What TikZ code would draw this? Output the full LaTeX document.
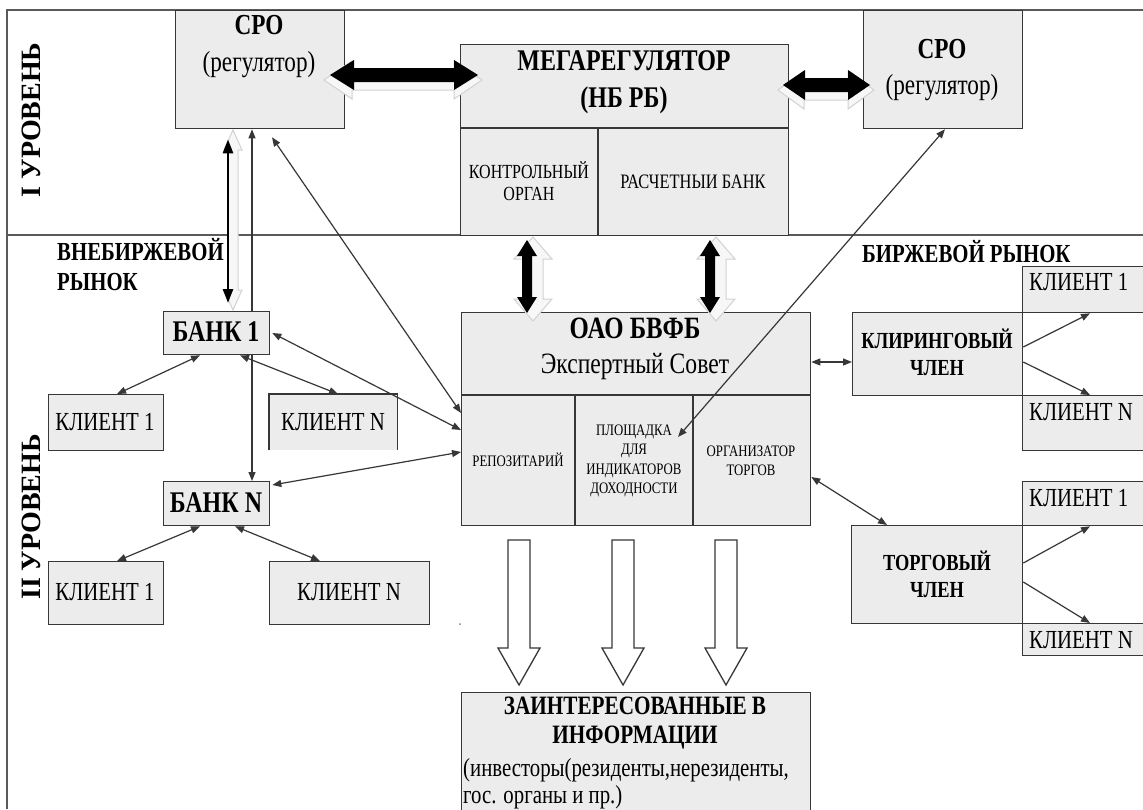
\documentclass[tikz,border=0pt]{standalone}
\usepackage{fontspec}
\setmainfont{Liberation Serif}[FakeStretch=0.8]
\newfontfamily\vfont{Liberation Serif}
\usetikzlibrary{arrows.meta,calc}

\definecolor{boxgray}{RGB}{236,236,236}
\definecolor{linegray}{RGB}{55,55,55}
\definecolor{framegray}{RGB}{90,90,90}

\newcommand{\fsz}[2]{\fontsize{#1}{#2}\selectfont}
% horizontal double block arrow: style, x1, x2, y, h, H, L
\newcommand{\HArrow}[7]{\path[#1] (#2,#4) -- ({#2+#7},{#4-#6}) -- ({#2+#7},{#4-#5}) -- ({#3-#7},{#4-#5}) -- ({#3-#7},{#4-#6}) -- (#3,#4) -- ({#3-#7},{#4+#6}) -- ({#3-#7},{#4+#5}) -- ({#2+#7},{#4+#5}) -- ({#2+#7},{#4+#6}) -- cycle;}
% vertical double block arrow: style, x, y1, y2, h, H, L
\newcommand{\VArrow}[7]{\path[#1] (#2,#3) -- ({#2+#6},{#3+#7}) -- ({#2+#5},{#3+#7}) -- ({#2+#5},{#4-#7}) -- ({#2+#6},{#4-#7}) -- (#2,#4) -- ({#2-#6},{#4-#7}) -- ({#2-#5},{#4-#7}) -- ({#2-#5},{#3+#7}) -- ({#2-#6},{#3+#7}) -- cycle;}
% down hollow block arrow: style, x, ytop, yhead, ytip, h, H
\newcommand{\DArrow}[7]{\path[#1] ({#2-#6},#3) -- ({#2+#6},#3) -- ({#2+#6},#4) -- ({#2+#7},#4) -- (#2,#5) -- ({#2-#7},#4) -- ({#2-#6},#4) -- cycle;}

\tikzset{
  box/.style={draw=linegray, fill=boxgray, line width=1.3pt, inner sep=0pt, anchor=north west},
  boxfill/.style={fill=boxgray, inner sep=0pt, anchor=north west},
  whitebox/.style={draw=linegray, fill=white, line width=1.3pt, inner sep=0pt, anchor=north west},
  lbl/.style={inner sep=0pt, align=center, text=black},
  divider/.style={draw=linegray, line width=1.3pt},
  frame/.style={draw=framegray, line width=2pt},
  conn/.style={line width=1.2pt, draw=linegray, {Triangle[length=9pt,width=7pt]}-{Triangle[length=9pt,width=7pt]}},
  conn1/.style={line width=1.2pt, draw=linegray, -{Triangle[length=9pt,width=7pt]}},
  thickconn/.style={line width=2.6pt, draw=black, {Triangle[length=14pt,width=10pt]}-{Triangle[length=14pt,width=10pt]}, shorten <=10pt, shorten >=8pt},
  blk/.style={fill=black},
  blkshadow/.style={fill=gray!6, draw=gray!35, line width=1pt},
  hollow/.style={fill=white, draw=linegray, line width=1.3pt},
}

\begin{document}
\begin{tikzpicture}[x=1pt,y=-1pt]
\clip (0,0) rectangle (1143,809);
\fill[white] (0,0) rectangle (1143,809);

% frame
\draw[frame] (7,809) -- (7,10) -- (1143,10);
\draw[frame] (7,235) -- (1143,235);

% level I boxes
\node[box, minimum width=169pt, minimum height=118pt] (sroL) at (175,10) {};
\node[box, minimum width=328pt, minimum height=191pt] (mega) at (460,44) {};
\draw[divider] ([yshift=-84pt]mega.north west) -- ([yshift=-84pt]mega.north east);
\draw[divider] ([xshift=138pt,yshift=-84pt]mega.north west) -- ([xshift=138pt]mega.south west);
\node[box, minimum width=159pt, minimum height=118pt] (sroR) at (863,10) {};

% OAO box
\node[box, minimum width=349pt, minimum height=213pt] (oao) at (461,312) {};
\draw[divider] ([yshift=-83pt]oao.north west) -- ([yshift=-83pt]oao.north east);
\draw[divider] ([xshift=114pt,yshift=-83pt]oao.north west) -- ([xshift=114pt]oao.south west);
\draw[divider] ([xshift=232pt,yshift=-83pt]oao.north west) -- ([xshift=232pt]oao.south west);

% OTC market
\node[box, minimum width=106pt, minimum height=43pt] (b1) at (163,311) {};
\node[box, minimum width=115pt, minimum height=56pt] (k1a) at (48,394) {};
\node[boxfill, minimum width=128pt, minimum height=56pt] (kNa) at (269,394) {};
\draw[divider] (kNa.south west) -- (kNa.north west) -- (kNa.north east) -- (kNa.south east);
\node[box, minimum width=106pt, minimum height=44pt] (bN) at (163,481) {};
\node[box, minimum width=115pt, minimum height=63pt] (k1b) at (48,561) {};
\node[box, minimum width=160pt, minimum height=63pt] (kNb) at (269,561) {};

% exchange market
\node[box, minimum width=130pt, minimum height=46pt] (c1a) at (1022,266) {};
\node[whitebox, minimum width=130pt, minimum height=83pt] (cm1) at (1022,312) {};
\node[box, minimum width=130pt, minimum height=55pt] (cNa) at (1022,395) {};
\node[box, minimum width=170pt, minimum height=83pt] (clr) at (852,312) {};
\node[box, minimum width=130pt, minimum height=44pt] (c1b) at (1022,481) {};
\node[whitebox, minimum width=130pt, minimum height=98pt] (cm2) at (1022,525) {};
\node[box, minimum width=130pt, minimum height=32pt] (cNb) at (1022,623) {};
\node[box, minimum width=171pt, minimum height=98pt] (trd) at (851,525) {};

% info box
\node[box, minimum width=349pt, minimum height=160pt] (info) at (461,692) {};

% block arrows level I
\HArrow{blkshadow}{324}{482}{80}{10}{19}{28}
\HArrow{blk}{330}{478}{75}{7}{15}{24}
\HArrow{blkshadow}{778}{874}{90}{10}{19}{26}
\HArrow{blk}{783}{870}{85}{7}{15}{22}
% vertical block arrows
\VArrow{blkshadow}{533}{237}{321}{10}{19}{22}
\VArrow{blk}{527}{240}{313}{5}{10}{16}
\VArrow{blkshadow}{716}{237}{321}{10}{19}{22}
\VArrow{blk}{710}{240}{313}{5}{10}{16}
% hollow down arrows
\DArrow{hollow}{519}{540}{648}{685}{11}{21}
\DArrow{hollow}{623}{540}{648}{685}{11}{21}
\DArrow{hollow}{726}{540}{648}{685}{11}{21}

% thick SRO <-> bank 1
\VArrow{blkshadow}{233}{130}{310}{5}{9}{20}
\draw[thickconn] ([xshift=53pt]sroL.south west) -- ([xshift=65pt]b1.north west);

% thin connectors
\draw[conn1] ([xshift=89pt]b1.north west) -- ([xshift=77pt]sroL.south west);
\draw[conn1] ([xshift=89pt]b1.south west) -- ([xshift=89pt]bN.north west);
\draw[conn] ([xshift=97pt,yshift=-8pt]sroL.south west) -- ([yshift=-101pt]oao.north west);
\draw[conn] ([xshift=2pt,yshift=-22pt]b1.north east) -- ([yshift=-118pt]oao.north west);
\draw[conn] ([xshift=2pt,yshift=-4pt]bN.north east) -- ([yshift=-140pt]oao.north west);
\draw[conn] ([xshift=37pt]b1.south west) -- ([xshift=69pt]k1a.north west);
\draw[conn] ([xshift=77pt]b1.south west) -- ([xshift=69pt]kNa.north west);
\draw[conn] ([xshift=37pt]bN.south west) -- ([xshift=69pt]k1b.north west);
\draw[conn] ([xshift=72pt]bN.south west) -- ([xshift=51pt]kNb.north west);
\draw[conn] ([yshift=-50pt]oao.north east) -- ([yshift=-50pt]clr.north west);
\draw[conn1] ([yshift=-35pt]clr.north east) -- ([xshift=68pt]c1a.south west);
\draw[conn1] ([yshift=-50pt]clr.north east) -- ([xshift=68pt]cNa.north west);
\draw[conn] ([yshift=-165pt]oao.north east) -- ([xshift=36pt]trd.north west);
\draw[conn1] ([yshift=-38pt]trd.north east) -- ([xshift=68pt]c1b.south west);
\draw[conn1] ([yshift=-57pt]trd.north east) -- ([xshift=68pt]cNb.north west);
\draw[conn] ([xshift=82pt]sroR.south west) -- ([xshift=217pt,yshift=-125pt]oao.north west);

% texts
\node[lbl, font=\vfont\bfseries\fsz{28}{30}, rotate=90] (lev1) at (31,120) {I УРОВЕНЬ};
\node[lbl, font=\vfont\bfseries\fsz{28}{30}, rotate=90] (lev2) at (31,517) {II УРОВЕНЬ};

\node[lbl, font=\fsz{29}{37}] (tsroL) at (259,47) {{\bfseries СРО}\\(регулятор)};
\node[lbl, font=\fsz{29}{36}] (tsroR) at (942,70) {{\bfseries СРО}\\(регулятор)};
\node[lbl, font=\bfseries\fsz{30}{37}] (tmega) at (624,82) {МЕГАРЕГУЛЯТОР\\(НБ РБ)};
\node[lbl, font=\fsz{20}{22}] (tkontr) at (529,181) {КОНТРОЛЬНЫЙ\\ОРГАН};
\node[lbl, font=\fsz{20.5}{22}] (trasch) at (693,182) {РАСЧЕТНЫИ БАНК};

\node[lbl, font=\fsz{29.5}{35}] (toao) at (635,349) {{\bfseries\fsz{31}{35}ОАО БВФБ}\\Экспертный Совет};
\node[lbl, font=\fsz{16}{20}] (trep) at (518,460) {РЕПОЗИТАРИЙ};
\node[lbl, font=\fsz{16}{19.5}] (tplosh) at (634,461) {ПЛОЩАДКА\\ДЛЯ\\ИНДИКАТОРОВ\\ДОХОДНОСТИ};
\node[lbl, font=\fsz{16}{19}] (torg) at (751,461) {ОРГАНИЗАТОР\\ТОРГОВ};

\node[lbl, font=\bfseries\fsz{26}{30}, anchor=west, align=left] (totc) at (57,265) {ВНЕБИРЖЕВОЙ\\РЫНОК};
\node[lbl, font=\bfseries\fsz{30}{30}] (tb1) at (216,332) {БАНК 1};
\node[lbl, font=\bfseries\fsz{30}{30}] (tbN) at (216,503) {БАНК N};
\node[lbl, font=\fsz{26}{30}] (tk1a) at (105,422) {КЛИЕНТ 1};
\node[lbl, font=\fsz{26}{30}] (tkNa) at (333,422) {КЛИЕНТ N};
\node[lbl, font=\fsz{26}{30}] (tk1b) at (105,592) {КЛИЕНТ 1};
\node[lbl, font=\fsz{26}{30}] (tkNb) at (349,592) {КЛИЕНТ N};

\node[lbl, font=\bfseries\fsz{26}{30}, anchor=west] (texch) at (862,252) {БИРЖЕВОЙ РЫНОК};
\node[lbl, font=\bfseries\fsz{23}{27}] (tclr) at (937,352) {КЛИРИНГОВЫЙ\\ЧЛЕН};
\node[lbl, font=\bfseries\fsz{23}{27}] (ttrd) at (937,574) {ТОРГОВЫЙ\\ЧЛЕН};
\node[lbl, font=\fsz{26}{30}, anchor=west] (tc1a) at (1029,282) {КЛИЕНТ 1};
\node[lbl, font=\fsz{26}{30}, anchor=west] (tcNa) at (1029,412) {КЛИЕНТ N};
\node[lbl, font=\fsz{26}{30}, anchor=west] (tc1b) at (1029,498) {КЛИЕНТ 1};
\node[lbl, font=\fsz{26}{30}, anchor=west] (tcNb) at (1029,640) {КЛИЕНТ N};

\node[lbl, font=\bfseries\fsz{26.5}{29}] (tinfo) at (635,723) {ЗАИНТЕРЕСОВАННЫЕ В\\ИНФОРМАЦИИ};
\node[lbl, font=\fsz{26}{27}, anchor=north west, align=left] (tinfo2) at (463,758) {(инвесторы(резиденты,нерезиденты,\\гос. органы и пр.)};

\fill[gray] (460,624) circle (1pt);
\end{tikzpicture}
\end{document}
